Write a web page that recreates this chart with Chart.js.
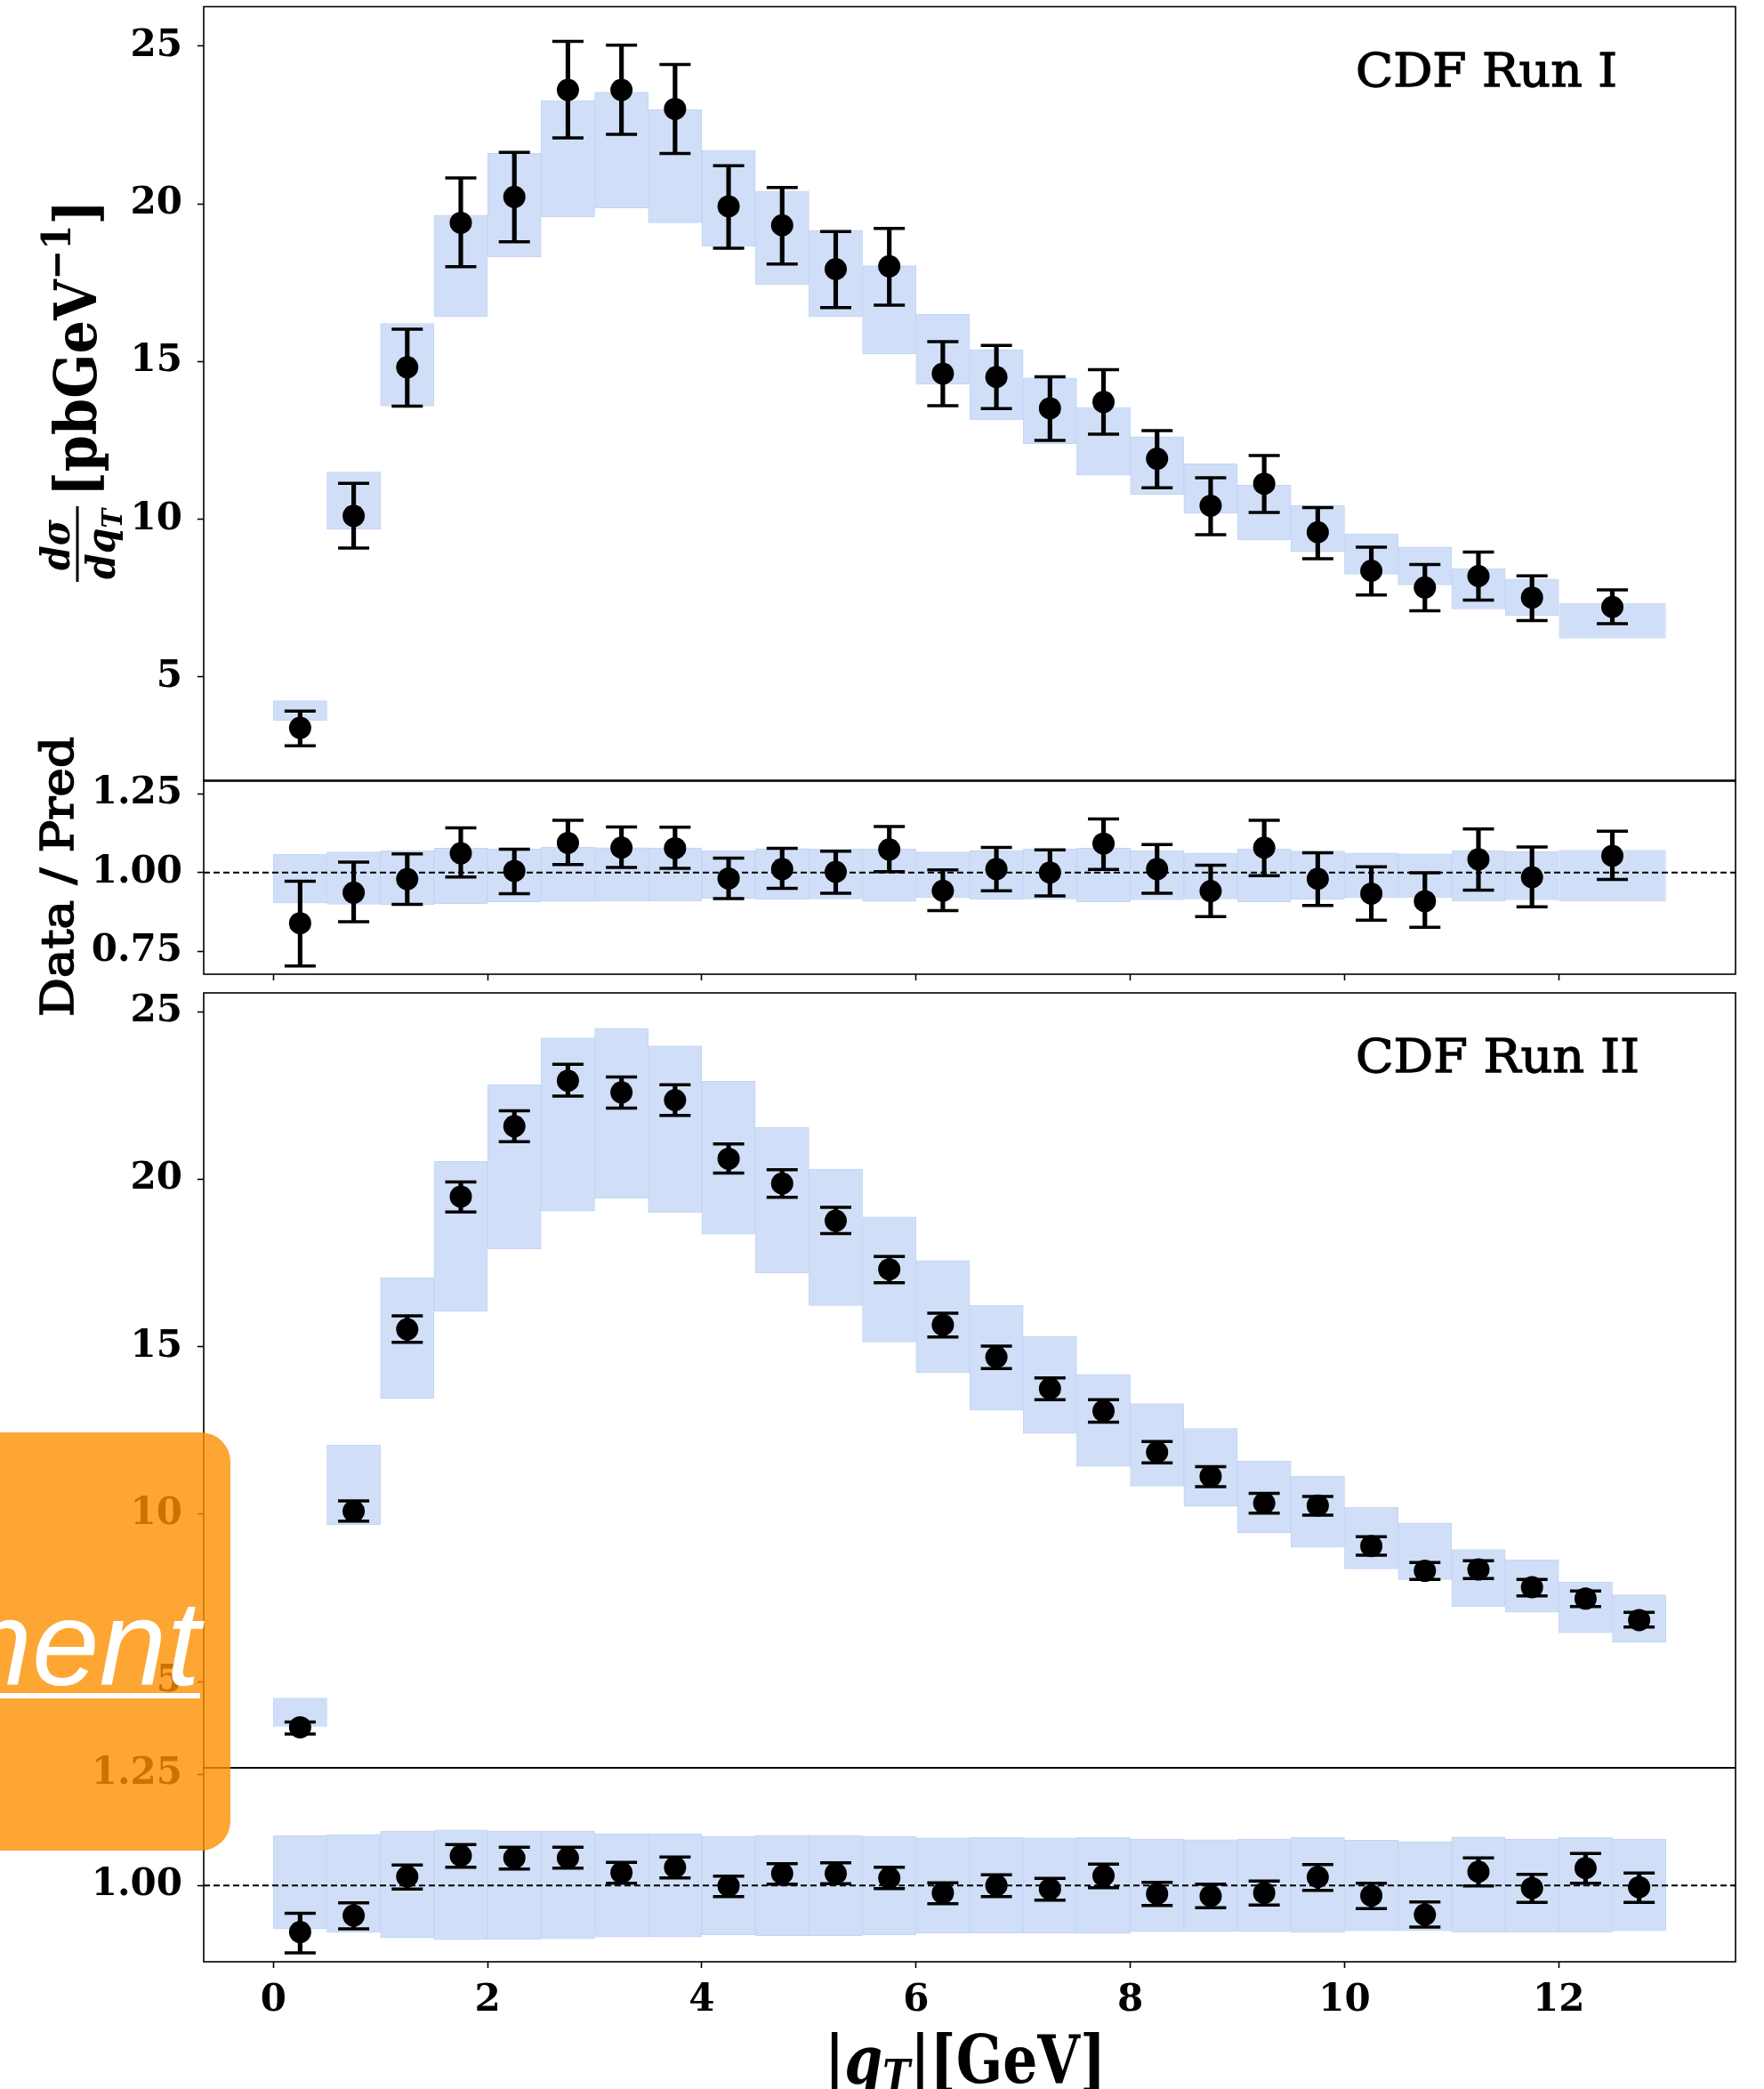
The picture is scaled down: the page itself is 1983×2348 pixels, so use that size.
<!DOCTYPE html>
<html>
<head>
<meta charset="utf-8">
<title>CDF Run I / Run II qT spectrum</title>
<script src="https://cdn.jsdelivr.net/npm/chart.js@4.4.1/dist/chart.umd.min.js"></script>
<style>
  html, body { margin: 0; padding: 0; background: #fff; }
  body { position: relative; width: 1983px; height: 2348px; overflow: hidden; }
  canvas { position: absolute; left: 0; }
  #mainI { top: 0; }
  #ratioI { top: 800px; }
  #mainII { top: 1100px; }
  #ratioII { top: 1970px; }
  #promo { position: absolute; left: -40px; top: 1610px; width: 299px; height: 470px; background: rgba(253, 144, 0, 0.8); border-radius: 33px; overflow: hidden; }
  #promo span { position: absolute; right: 34px; top: 169px; font: italic 136px/136px "Liberation Sans", sans-serif; color: #fff; white-space: nowrap; text-decoration: underline; text-decoration-thickness: 6px; text-underline-offset: 9px; }
</style>
</head>
<body>
<canvas id="mainI" width="1983" height="900"></canvas>
<canvas id="ratioI" width="1983" height="360"></canvas>
<canvas id="mainII" width="1983" height="900"></canvas>
<canvas id="ratioII" width="1983" height="378"></canvas>
<div id="promo"><span>Advertisement</span></div>
<script>
const X_MIN = -0.65, X_MAX = 13.65;
const xTickValues = [0, 2, 4, 6, 8, 10, 12];
const mainTicks = [5, 10, 15, 20, 25];
const ratioTicksI = [0.75, 1.0, 1.25];
const ratioTicksII = [1.0, 1.25];

// CDF Run I
const run1Centers = [0.25, 0.75, 1.25, 1.75, 2.25, 2.75, 3.25, 3.75, 4.25, 4.75, 5.25, 5.75, 6.25, 6.75, 7.25, 7.75, 8.25, 8.75, 9.25, 9.75, 10.25, 10.75, 11.25, 11.75, 12.5];
const run1Widths = [0.5, 0.5, 0.5, 0.5, 0.5, 0.5, 0.5, 0.5, 0.5, 0.5, 0.5, 0.5, 0.5, 0.5, 0.5, 0.5, 0.5, 0.5, 0.5, 0.5, 0.5, 0.5, 0.5, 0.5, 1.0];
const run1Data = [3.39, 10.11, 14.82, 19.40, 20.22, 23.61, 23.61, 23.01, 19.92, 19.32, 17.93, 18.02, 14.62, 14.51, 13.52, 13.72, 11.92, 10.43, 11.13, 9.59, 8.37, 7.84, 8.20, 7.52, 7.22];
const run1DataUp = [3.92, 11.14, 16.03, 20.82, 21.63, 25.15, 25.03, 24.42, 21.21, 20.52, 19.12, 19.22, 15.63, 15.51, 14.52, 14.74, 12.81, 11.32, 12.02, 10.37, 9.12, 8.57, 8.96, 8.21, 7.76];
const run1DataDn = [2.82, 9.09, 13.59, 18.01, 18.80, 22.09, 22.20, 21.60, 18.59, 18.09, 16.71, 16.79, 13.60, 13.51, 12.50, 12.70, 11.00, 9.51, 10.22, 8.75, 7.60, 7.10, 7.44, 6.79, 6.69];
const run1PredHi = [4.25, 11.50, 16.21, 19.64, 21.60, 23.27, 23.54, 22.98, 21.70, 20.40, 19.16, 18.04, 16.50, 15.37, 14.48, 13.55, 12.62, 11.76, 11.08, 10.43, 9.54, 9.12, 8.44, 8.11, 7.35];
const run1PredLo = [3.63, 9.69, 13.59, 16.42, 18.31, 19.59, 19.87, 19.40, 18.65, 17.44, 16.42, 15.24, 14.28, 13.15, 12.40, 11.40, 10.79, 10.19, 9.35, 8.97, 8.26, 7.92, 7.16, 6.95, 6.22];
const run1Ratio = [0.839, 0.936, 0.979, 1.061, 1.005, 1.094, 1.079, 1.077, 0.981, 1.011, 1.002, 1.073, 0.942, 1.011, 1.000, 1.092, 1.011, 0.941, 1.079, 0.980, 0.933, 0.909, 1.042, 0.985, 1.053];
const run1RatioUp = [0.972, 1.033, 1.059, 1.142, 1.074, 1.166, 1.145, 1.144, 1.046, 1.077, 1.068, 1.146, 1.008, 1.080, 1.072, 1.170, 1.089, 1.023, 1.166, 1.063, 1.018, 0.999, 1.138, 1.081, 1.131];
const run1RatioDn = [0.703, 0.844, 0.899, 0.986, 0.933, 1.025, 1.016, 1.013, 0.917, 0.950, 0.934, 1.003, 0.879, 0.942, 0.926, 1.010, 0.934, 0.860, 0.990, 0.895, 0.849, 0.826, 0.944, 0.891, 0.978];
const run1BandHi = [1.058, 1.065, 1.069, 1.077, 1.075, 1.081, 1.079, 1.078, 1.069, 1.076, 1.075, 1.075, 1.065, 1.070, 1.075, 1.077, 1.070, 1.062, 1.075, 1.068, 1.062, 1.059, 1.070, 1.066, 1.072];
const run1BandLo = [0.903, 0.899, 0.898, 0.901, 0.907, 0.908, 0.909, 0.909, 0.918, 0.915, 0.916, 0.908, 0.921, 0.915, 0.916, 0.907, 0.913, 0.916, 0.907, 0.915, 0.921, 0.920, 0.909, 0.913, 0.908];

// CDF Run II
const run2Centers = [0.25, 0.75, 1.25, 1.75, 2.25, 2.75, 3.25, 3.75, 4.25, 4.75, 5.25, 5.75, 6.25, 6.75, 7.25, 7.75, 8.25, 8.75, 9.25, 9.75, 10.25, 10.75, 11.25, 11.75, 12.25, 12.75];
const run2Widths = [0.5, 0.5, 0.5, 0.5, 0.5, 0.5, 0.5, 0.5, 0.5, 0.5, 0.5, 0.5, 0.5, 0.5, 0.5, 0.5, 0.5, 0.5, 0.5, 0.5, 0.5, 0.5, 0.5, 0.5, 0.5, 0.5];
const run2Data = [3.64, 10.09, 15.52, 19.48, 21.58, 22.94, 22.59, 22.36, 20.61, 19.87, 18.76, 17.31, 15.65, 14.69, 13.75, 13.08, 11.85, 11.13, 10.33, 10.26, 9.05, 8.31, 8.35, 7.82, 7.48, 6.84];
const run2DataUp = [3.80, 10.40, 15.92, 19.92, 22.04, 23.43, 23.05, 22.82, 21.05, 20.28, 19.16, 17.69, 16.00, 15.02, 14.07, 13.42, 12.17, 11.42, 10.62, 10.53, 9.33, 8.56, 8.61, 8.05, 7.71, 7.07];
const run2DataDn = [3.44, 9.79, 15.13, 19.02, 21.12, 22.48, 22.12, 21.90, 20.18, 19.46, 18.38, 16.91, 15.29, 14.35, 13.42, 12.75, 11.53, 10.82, 10.03, 9.97, 8.78, 8.05, 8.08, 7.56, 7.24, 6.63];
const run2PredHi = [4.51, 12.06, 17.06, 20.53, 22.82, 24.22, 24.50, 23.98, 22.92, 21.54, 20.30, 18.87, 17.57, 16.24, 15.31, 14.17, 13.30, 12.56, 11.59, 11.14, 10.21, 9.74, 8.95, 8.64, 7.97, 7.59];
const run2PredLo = [3.67, 9.69, 13.46, 16.06, 17.92, 19.05, 19.43, 19.00, 18.36, 17.20, 16.23, 15.14, 14.23, 13.10, 12.41, 11.43, 10.84, 10.23, 9.45, 9.01, 8.37, 8.05, 7.24, 7.07, 6.46, 6.18];
const run2Ratio = [0.895, 0.932, 1.020, 1.067, 1.062, 1.062, 1.029, 1.041, 0.999, 1.027, 1.027, 1.017, 0.983, 1.000, 0.992, 1.022, 0.981, 0.976, 0.983, 1.019, 0.977, 0.934, 1.031, 0.994, 1.039, 0.996];
const run2RatioUp = [0.937, 0.961, 1.046, 1.092, 1.086, 1.086, 1.052, 1.064, 1.021, 1.049, 1.051, 1.041, 1.006, 1.024, 1.016, 1.048, 1.007, 1.003, 1.010, 1.047, 1.005, 0.963, 1.062, 1.025, 1.072, 1.028];
const run2RatioDn = [0.848, 0.902, 0.992, 1.041, 1.037, 1.039, 1.005, 1.017, 0.975, 1.003, 1.004, 0.993, 0.959, 0.975, 0.967, 0.995, 0.955, 0.950, 0.956, 0.989, 0.948, 0.906, 0.999, 0.962, 1.005, 0.962];
const run2BandHi = [1.112, 1.115, 1.122, 1.125, 1.122, 1.122, 1.117, 1.117, 1.111, 1.113, 1.113, 1.110, 1.107, 1.108, 1.107, 1.108, 1.104, 1.103, 1.104, 1.108, 1.102, 1.099, 1.109, 1.104, 1.108, 1.104];
const run2BandLo = [0.902, 0.894, 0.882, 0.878, 0.879, 0.880, 0.884, 0.884, 0.889, 0.887, 0.887, 0.889, 0.893, 0.893, 0.893, 0.892, 0.896, 0.896, 0.896, 0.894, 0.898, 0.898, 0.895, 0.895, 0.895, 0.898];

const SERIF = '"DejaVu Serif"';
const tickFont = { family: 'DejaVu Serif', size: 42, weight: 'bold' };
const PLOT_LEFT = 229;
const PAD_RIGHT = 32;

function points(xs, ys) {
  return xs.map((x, i) => ({ x, y: ys[i] }));
}

function spans(xs, lo, hi) {
  return xs.map((x, i) => ({ x, y: [lo[i], hi[i]] }));
}

// prediction boxes: one bar dataset per bin width
function bandSets(xs, lo, hi, widths) {
  const step = Math.min(...xs.slice(1).map((x, i) => x - xs[i]));
  return [...new Set(widths)].map(w => {
    const idx = xs.map((_, i) => i).filter(i => widths[i] === w);
    return {
      type: 'bar', order: 4, grouped: false,
      data: idx.map(i => ({ x: xs[i], y: [lo[i], hi[i]] })),
      barPercentage: w / step, categoryPercentage: 1,
      backgroundColor: '#d0dff7', borderColor: '#c3d5f5', borderWidth: 1, borderSkipped: false
    };
  });
}

function errorSets(xs, val, dn, up) {
  return [
    { type: 'scatter', order: 0, data: points(xs, val), pointStyle: 'circle', pointRadius: 12.5, pointBackgroundColor: '#000', pointBorderWidth: 0 },
    { type: 'scatter', order: 1, data: points(xs, up).concat(points(xs, dn)), pointStyle: 'line', pointRadius: 17.5, pointBorderColor: '#000', pointBorderWidth: 3.5 },
    { type: 'bar', order: 2, grouped: false, data: spans(xs, dn, up), backgroundColor: '#000', maxBarThickness: 4.5, barPercentage: 1, categoryPercentage: 1 }
  ];
}

function unitLine() {
  return {
    type: 'line', order: 3, data: [{ x: X_MIN, y: 1 }, { x: X_MAX, y: 1 }],
    borderColor: '#000', borderWidth: 2, borderDash: [7, 4], pointRadius: 0, fill: false
  };
}

const framePlugin = {
  id: 'frame',
  afterDatasetsDraw(chart) {
    const { ctx, chartArea: a } = chart;
    ctx.save();
    ctx.strokeStyle = '#000';
    ctx.lineWidth = 1.6;
    ctx.strokeRect(a.left, a.top, a.right - a.left, a.bottom - a.top);
    ctx.restore();
  }
};

// draw a run of text pieces squeezed into a given length
function fitParts(ctx, parts, start, length, base) {
  let total = 0;
  parts.forEach(p => { ctx.font = p.font; total += ctx.measureText(p.text).width; });
  ctx.save();
  ctx.translate(start, 0);
  ctx.scale(length / total, 1);
  ctx.strokeStyle = '#000';
  let x = 0;
  parts.forEach(p => {
    ctx.font = p.font;
    ctx.fillText(p.text, x, base + (p.dy || 0));
    if (p.stroke) {
      ctx.lineWidth = p.stroke;
      ctx.strokeText(p.text, x, base + (p.dy || 0));
    }
    x += ctx.measureText(p.text).width;
  });
  ctx.restore();
}

function runTag(chart, label, length) {
  const { ctx, chartArea: a } = chart;
  ctx.save();
  ctx.fillStyle = '#000';
  ctx.textAlign = 'left';
  ctx.textBaseline = 'alphabetic';
  fitParts(ctx, [{ text: label, font: `53px ${SERIF}`, stroke: 1.3 }],
    a.left + 0.752 * (a.right - a.left), length, a.top + 89);
  ctx.restore();
}

function sigmaLabel(ctx) {
  ctx.save();
  ctx.fillStyle = '#000';
  ctx.textAlign = 'left';
  ctx.textBaseline = 'alphabetic';
  ctx.rotate(-Math.PI / 2);
  const it = `italic bold 44px ${SERIF}`;
  fitParts(ctx, [{ text: 'dσ', font: it }], -641, 57, 78);
  ctx.fillRect(-654, 85.5, 85, 3);
  fitParts(ctx, [{ text: 'dq', font: it }, { text: 'T', font: `italic bold 31px ${SERIF}`, dy: 8 }], -651, 79, 129);
  const b = `bold 66px ${SERIF}`;
  fitParts(ctx, [
    { text: '[pbGeV', font: b },
    { text: '−1', font: `bold 45px ${SERIF}`, dy: -29 },
    { text: ']', font: b }
  ], -558, 333, 108);
  ctx.restore();
}

function ratioLabel(ctx) {
  ctx.save();
  ctx.fillStyle = '#000';
  ctx.textAlign = 'left';
  ctx.textBaseline = 'alphabetic';
  ctx.rotate(-Math.PI / 2);
  fitParts(ctx, [{ text: 'Data / Pred', font: `50px ${SERIF}`, stroke: 1.6 }], -343, 315, 82);
  ctx.restore();
}

function qtLabel(chart) {
  const ctx = chart.ctx;
  ctx.save();
  ctx.fillStyle = '#000';
  ctx.textAlign = 'left';
  ctx.textBaseline = 'alphabetic';
  const b = `bold 74px ${SERIF}`;
  const bi = `italic bold 74px ${SERIF}`;
  fitParts(ctx, [
    { text: '|', font: b },
    { text: 'q', font: bi },
    { text: 'T', font: `italic bold 50px ${SERIF}`, dy: 10 },
    { text: '|', font: b },
    { text: '[GeV]', font: b }
  ], 927, 316, 371);
  ctx.restore();
}

function makePanel(id, p) {
  return new Chart(document.getElementById(id), {
    type: 'scatter',
    data: { datasets: p.datasets },
    options: {
      responsive: false, animation: false, events: [], devicePixelRatio: 1,
      layout: { autoPadding: false, padding: { left: 0, right: PAD_RIGHT, top: p.top, bottom: p.bottom } },
      plugins: { legend: { display: false }, tooltip: { enabled: false } },
      scales: {
        x: {
          type: 'linear', min: X_MIN, max: X_MAX, offset: false, display: p.xAxis > 0,
          afterBuildTicks: s => { s.ticks = xTickValues.map(value => ({ value })); },
          afterFit: s => { s.height = p.xAxis; s.paddingLeft = 0; s.paddingRight = 0; },
          border: { display: false },
          grid: { offset: false, drawOnChartArea: false, drawTicks: true, tickLength: 7, tickWidth: 1.6, tickColor: '#000' },
          ticks: { display: p.xLabels, color: '#000', padding: 12, font: tickFont, maxRotation: 0, callback: v => String(v) }
        },
        y: {
          type: 'linear', min: p.yMin, max: p.yMax,
          afterBuildTicks: s => { s.ticks = p.yTicks.map(value => ({ value })); },
          afterFit: s => { s.width = PLOT_LEFT; s.paddingTop = 0; s.paddingBottom = 0; },
          border: { display: false },
          grid: { drawOnChartArea: false, drawTicks: true, tickLength: 7, tickWidth: 1.6, tickColor: '#000' },
          ticks: { color: '#000', padding: 17, font: tickFont, callback: p.yFormat }
        }
      }
    },
    plugins: [framePlugin, { id: 'panelText', afterDraw: p.text }]
  });
}

const intFmt = v => String(v);
const ratioFmt = v => v.toFixed(2);

makePanel('mainI', {
  top: 7.5, bottom: 22, xAxis: 0, xLabels: false,
  yMin: 1.70, yMax: 26.25, yTicks: mainTicks, yFormat: intFmt,
  datasets: [
    ...errorSets(run1Centers, run1Data, run1DataDn, run1DataUp),
    ...bandSets(run1Centers, run1PredLo, run1PredHi, run1Widths)
  ],
  text: chart => { runTag(chart, 'CDF Run I', 294); sigmaLabel(chart.ctx); }
});

makePanel('ratioI', {
  top: 77, bottom: 0, xAxis: 65, xLabels: false,
  yMin: 0.677, yMax: 1.293, yTicks: ratioTicksI, yFormat: ratioFmt,
  datasets: [
    ...errorSets(run1Centers, run1Ratio, run1RatioDn, run1RatioUp),
    unitLine(),
    ...bandSets(run1Centers, run1BandLo, run1BandHi, run1Widths)
  ],
  text: chart => ratioLabel(chart.ctx)
});

makePanel('mainII', {
  top: 16, bottom: 13, xAxis: 0, xLabels: false,
  yMin: 2.43, yMax: 25.56, yTicks: mainTicks, yFormat: intFmt,
  datasets: [
    ...errorSets(run2Centers, run2Data, run2DataDn, run2DataUp),
    ...bandSets(run2Centers, run2PredLo, run2PredHi, run2Widths)
  ],
  text: chart => runTag(chart, 'CDF Run II', 319)
});

makePanel('ratioII', {
  top: 17, bottom: 0, xAxis: 143, xLabels: true,
  yMin: 0.828, yMax: 1.265, yTicks: ratioTicksII, yFormat: ratioFmt,
  datasets: [
    ...errorSets(run2Centers, run2Ratio, run2RatioDn, run2RatioUp),
    unitLine(),
    ...bandSets(run2Centers, run2BandLo, run2BandHi, run2Widths)
  ],
  text: chart => qtLabel(chart)
});
</script>
</body>
</html>
